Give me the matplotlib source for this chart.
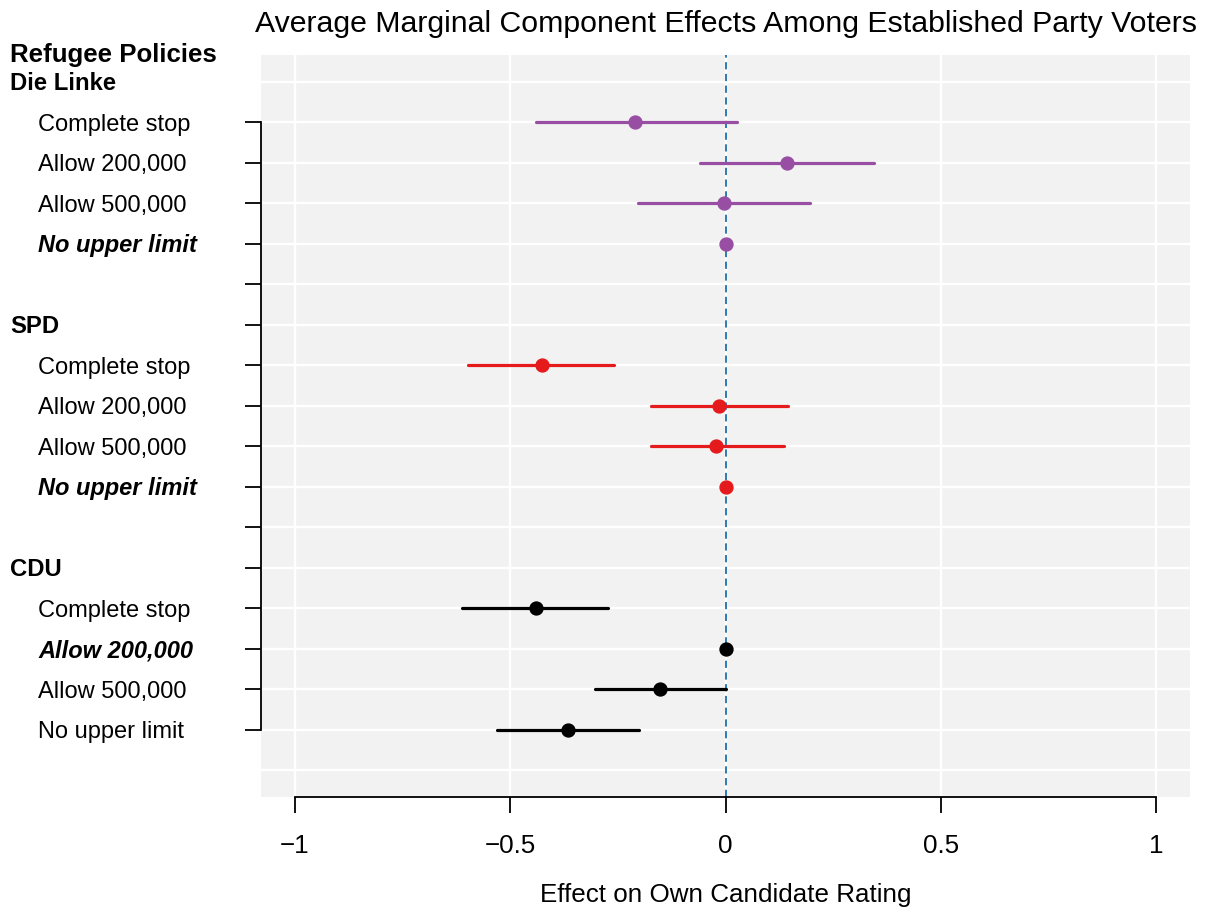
import matplotlib
matplotlib.use("Agg")
import matplotlib.pyplot as plt
import matplotlib.transforms as mtransforms
import numpy as np

plt.rcParams["font.family"] = ["Liberation Sans", "DejaVu Sans"]

# Data
GROUPS = ["Die Linke", "SPD", "CDU"]
LEVELS = ["Complete stop", "Allow 200,000", "Allow 500,000", "No upper limit"]
COLORS = ["#984EA3", "#E41A1C", "#000000"]
REFERENCE = [3, 3, 1]  # index of the baseline level per group

EST = [
    [-0.209, 0.142, -0.004, 0.0],
    [-0.427, -0.014, -0.021, 0.0],
    [-0.441, 0.0, -0.153, -0.365],
]
LOWER = [
    [-0.439, -0.060, -0.204, np.nan],
    [-0.597, -0.174, -0.174, np.nan],
    [-0.611, np.nan, -0.304, -0.530],
]
UPPER = [
    [0.026, 0.344, 0.197, np.nan],
    [-0.258, 0.146, 0.137, np.nan],
    [-0.274, np.nan, 0.000, -0.200],
]

TITLE = "Average Marginal Component Effects Among Established Party Voters"
XLABEL = "Effect on Own Candidate Rating"
XTICKS = [-1, -0.5, 0, 0.5, 1]
XTICKLABELS = ["\u22121", "\u22120.5", "0", "0.5", "1"]

W, H = 1208, 910
fig = plt.figure(figsize=(W / 100, H / 100), dpi=100)
ax = fig.add_axes([261 / W, 1 - 797 / H, (1190 - 261) / W, (797 - 55) / H])
ax.set_facecolor("#F2F2F2")

n_rows = 18
ax.set_ylim(n_rows - 1 + 0.667, -0.667)
ax.set_xlim(-1.0786, 1.0786)

# white grid
for r in range(n_rows):
    ax.axhline(r, color="white", lw=1.7, zorder=1)
for xt in XTICKS:
    ax.axvline(xt, color="white", lw=1.7, zorder=1)

ax.axvline(0, color="#1F6FA8", lw=1.3, ls=(0, (4, 2.5)), zorder=2)

# row labels: x in figure coords, y in data rows, baseline slightly below row
lab_tr = mtransforms.blended_transform_factory(fig.transFigure, ax.transData)
base_off = 0.21
ax.text(10 / W, -0.5, "Refugee Policies", transform=lab_tr, ha="left",
        va="baseline", fontsize=18.6, fontweight="bold")

for g, group in enumerate(GROUPS):
    header = g * 6
    ax.text(10 / W, header + base_off, group, transform=lab_tr, ha="left",
            va="baseline", fontsize=17.2, fontweight="bold")
    for i, level in enumerate(LEVELS):
        row = header + 1 + i
        is_ref = i == REFERENCE[g]
        ax.text(38 / W, row + base_off, level, transform=lab_tr, ha="left",
                va="baseline", fontsize=17.0,
                fontweight="bold" if is_ref else "normal",
                fontstyle="italic" if is_ref else "normal")
        if not np.isnan(LOWER[g][i]):
            ax.plot([LOWER[g][i], UPPER[g][i]], [row, row], color=COLORS[g],
                    lw=2.3, solid_capstyle="round", zorder=3)
        ax.plot(EST[g][i], row, "o", color=COLORS[g], ms=9.3, zorder=4)

for s in ["top", "right"]:
    ax.spines[s].set_visible(False)
ax.spines["left"].set_bounds(1, 16)
ax.spines["bottom"].set_bounds(-1, 1)
for s in ["left", "bottom"]:
    ax.spines[s].set_linewidth(1.3)

ax.set_yticks(range(1, 17))
ax.set_yticklabels([])
ax.set_xticks(XTICKS)
ax.set_xticklabels(XTICKLABELS, fontsize=18.7)
ax.tick_params(axis="both", length=11.5, width=1.3)
ax.tick_params(axis="x", pad=15)

fig.text(726 / W, 1 - 902 / H, XLABEL, ha="center", va="baseline",
         fontsize=18.7)
fig.text(726 / W, 1 - 32 / H, TITLE, ha="center", va="baseline",
         fontsize=21.8)

fig.savefig("out.png", dpi=100)
